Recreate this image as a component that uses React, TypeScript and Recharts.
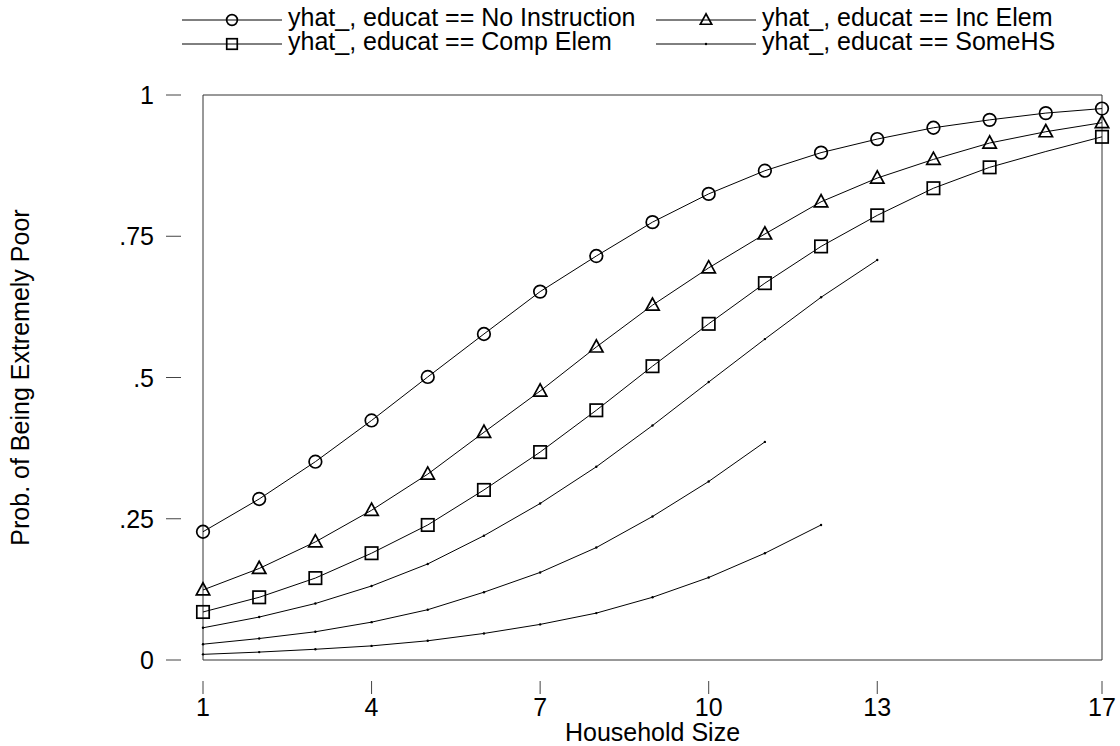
import React from "react";
import { LineChart, Line, XAxis, YAxis, ReferenceArea, Label } from "recharts";

// household size on x, predicted probability on y
const householdSize = [1, 2, 3, 4, 5, 6, 7, 8, 9, 10, 11, 12, 13, 14, 15, 16, 17];

const noInstruction = [0.227, 0.285, 0.351, 0.424, 0.501, 0.577, 0.652, 0.715, 0.775, 0.825, 0.866, 0.898, 0.922, 0.942, 0.956, 0.968, 0.976];
const incElem = [0.124, 0.162, 0.209, 0.265, 0.329, 0.403, 0.476, 0.554, 0.628, 0.694, 0.754, 0.811, 0.853, 0.886, 0.915, 0.935, 0.951];
const compElem = [0.085, 0.111, 0.145, 0.189, 0.239, 0.301, 0.368, 0.442, 0.52, 0.595, 0.667, 0.732, 0.787, 0.835, 0.872, 0.9, 0.926];
const someHS = [0.057, 0.076, 0.1, 0.131, 0.17, 0.22, 0.277, 0.342, 0.415, 0.492, 0.568, 0.642, 0.708];
const hsGrad = [0.028, 0.038, 0.05, 0.067, 0.089, 0.12, 0.155, 0.199, 0.254, 0.316, 0.386];
const college = [0.01, 0.014, 0.019, 0.025, 0.034, 0.047, 0.063, 0.083, 0.111, 0.146, 0.189, 0.239];

// the square at size 16 is not drawn in the original
const compElemNoMarker = [16];

const xTicks = [1, 4, 7, 10, 13, 17];
const yTicks = [0, 0.25, 0.5, 0.75, 1];
const yTickLabels = ["0", ".25", ".5", ".75", "1"];

const legendNames = [
  "yhat_, educat == No Instruction",
  "yhat_, educat == Inc Elem",
  "yhat_, educat == Comp Elem",
  "yhat_, educat == SomeHS",
];

const FONT = "'Liberation Sans', Arial, Helvetica, sans-serif";
const FS = 25;

const data = householdSize.map((size, i) => ({
  size,
  noInstruction: noInstruction[i],
  incElem: incElem[i],
  compElem: compElem[i],
  someHS: someHS[i],
  hsGrad: hsGrad[i],
  college: college[i],
}));

type Shape = "circle" | "triangle" | "square" | "point";

function Marker({ shape, cx, cy, small }: { shape: Shape; cx: number; cy: number; small?: boolean }) {
  const s = small ? 0.85 : 1;
  if (shape === "circle") return <circle cx={cx} cy={cy} r={6.3 * s} fill="none" stroke="#000" strokeWidth={1.7} />;
  if (shape === "triangle") {
    const pts = `${cx},${cy - 7.2 * s} ${cx - 6.7 * s},${cy + 5 * s} ${cx + 6.7 * s},${cy + 5 * s}`;
    return <polygon points={pts} fill="none" stroke="#000" strokeWidth={1.7} />;
  }
  if (shape === "square")
    return <rect x={cx - 6.2 * s} y={cy - 6.2 * s} width={12.4 * s} height={12.4 * s} fill="none" stroke="#000" strokeWidth={1.7} />;
  return <circle cx={cx} cy={cy} r={1.2} fill="#000" />;
}

function dotFor(shape: Shape, skip: number[] = []) {
  return (props: any) => {
    const { cx, cy, index, payload } = props;
    if (cx == null || cy == null || payload == null || skip.includes(payload.size)) return <g key={`d-${index}`} />;
    return (
      <g key={`d-${index}`}>
        <Marker shape={shape} cx={cx} cy={cy} />
      </g>
    );
  };
}

function YTick(props: any) {
  const { x, y, payload, index } = props;
  return (
    <g>
      <line x1={x - 37} x2={x - 22} y1={y} y2={y} stroke="#444" strokeWidth={1} />
      <text x={x - 49} y={y + 9} textAnchor="end" fontSize={FS} fontFamily={FONT} fill="#000">
        {yTickLabels[yTicks.indexOf(payload.value)] ?? index}
      </text>
    </g>
  );
}

function XTick(props: any) {
  const { x, y, payload } = props;
  return (
    <g>
      <line x1={x} x2={x} y1={y + 21} y2={y + 34} stroke="#444" strokeWidth={1} />
      <text x={x} y={y + 56} textAnchor="middle" fontSize={FS} fontFamily={FONT} fill="#000">
        {payload.value}
      </text>
    </g>
  );
}

function LegendRow({ x, y, shape, name }: { x: number; y: number; shape: Shape; name: string }) {
  // y is the text baseline
  const ly = y - 6;
  return (
    <g>
      <line x1={x} x2={x + 100} y1={ly} y2={ly} stroke="#000" strokeWidth={1} />
      <Marker shape={shape} cx={x + 50} cy={ly} small />
      <text x={x + 106} y={y} fontSize={FS} fontFamily={FONT} fill="#000">
        {name}
      </text>
    </g>
  );
}

export default function App() {
  return (
    <div style={{ position: "relative", width: 1120, height: 746, background: "#fff" }}>
      <style>{"body{margin:0}"}</style>
      <svg width={1120} height={70} style={{ position: "absolute", left: 0, top: 0 }}>
        <LegendRow x={182} y={26} shape="circle" name={legendNames[0]} />
        <LegendRow x={656} y={26} shape="triangle" name={legendNames[1]} />
        <LegendRow x={182} y={50} shape="square" name={legendNames[2]} />
        <LegendRow x={656} y={50} shape="point" name={legendNames[3]} />
      </svg>
      <LineChart
        width={1120}
        height={746}
        data={data}
        margin={{ top: 95, right: 18, bottom: 0, left: 0 }}
        style={{ position: "absolute", left: 0, top: 0 }}
      >
        <XAxis
          dataKey="size"
          type="number"
          domain={[1, 17]}
          ticks={xTicks}
          axisLine={false}
          tickLine={false}
          tickSize={0}
          tickMargin={0}
          height={86}
          tick={<XTick />}
          interval={0}
        >
          <Label
            content={({ viewBox }: any) => (
              <text
                x={viewBox.x + viewBox.width / 2}
                y={741}
                textAnchor="middle"
                fontSize={FS}
                fontFamily={FONT}
                fill="#000"
              >
                Household Size
              </text>
            )}
          />
        </XAxis>
        <YAxis
          type="number"
          domain={[0, 1]}
          ticks={yTicks}
          axisLine={false}
          tickLine={false}
          tickSize={0}
          tickMargin={0}
          width={203}
          tick={<YTick />}
          interval={0}
        >
          <Label
            content={({ viewBox }: any) => (
              <text
                transform={`translate(29, ${viewBox.y + viewBox.height / 2}) rotate(-90)`}
                textAnchor="middle"
                fontSize={FS}
                fontFamily={FONT}
                fill="#000"
              >
                Prob. of Being Extremely Poor
              </text>
            )}
          />
        </YAxis>
        <ReferenceArea x1={1} x2={17} y1={0} y2={1} fill="none" fillOpacity={0} stroke="#333" strokeWidth={1} />
        <Line type="linear" dataKey="noInstruction" stroke="#000" strokeWidth={1} dot={dotFor("circle")} activeDot={false} isAnimationActive={false} />
        <Line type="linear" dataKey="incElem" stroke="#000" strokeWidth={1} dot={dotFor("triangle")} activeDot={false} isAnimationActive={false} />
        <Line type="linear" dataKey="compElem" stroke="#000" strokeWidth={1} dot={dotFor("square", compElemNoMarker)} activeDot={false} isAnimationActive={false} />
        <Line type="linear" dataKey="someHS" stroke="#000" strokeWidth={1} dot={dotFor("point")} activeDot={false} isAnimationActive={false} />
        <Line type="linear" dataKey="hsGrad" stroke="#000" strokeWidth={1} dot={dotFor("point")} activeDot={false} isAnimationActive={false} />
        <Line type="linear" dataKey="college" stroke="#000" strokeWidth={1} dot={dotFor("point")} activeDot={false} isAnimationActive={false} />
      </LineChart>
    </div>
  );
}
